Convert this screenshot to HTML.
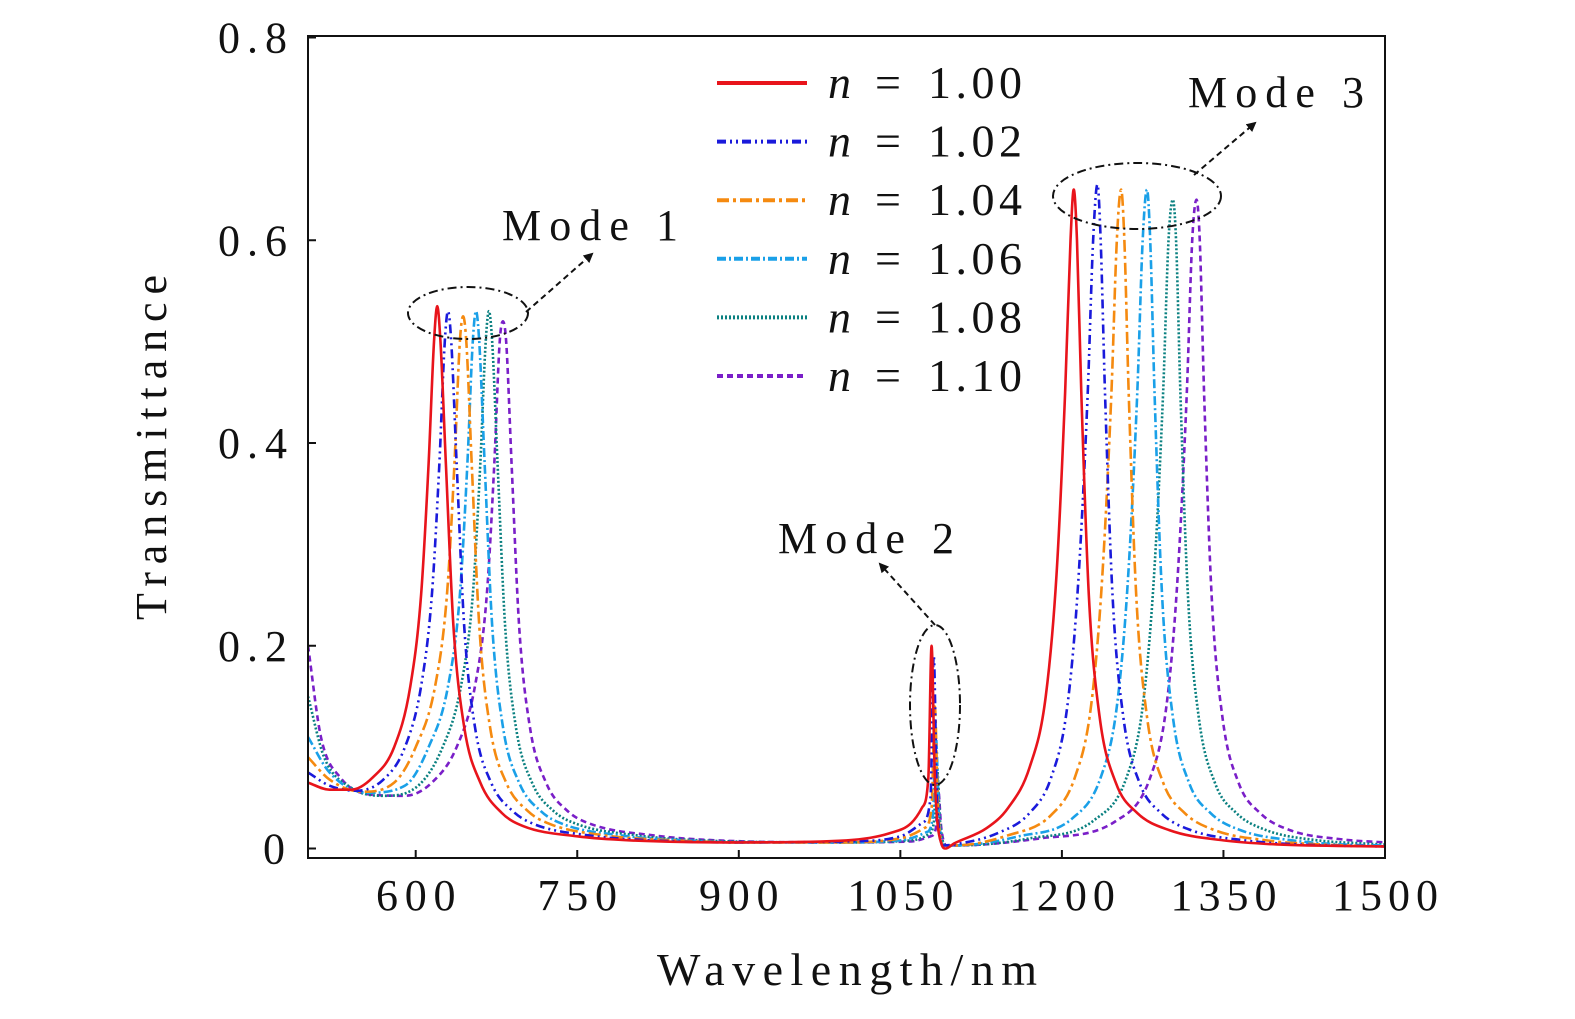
<!DOCTYPE html>
<html><head><meta charset="utf-8">
<style>
html,body{margin:0;padding:0;background:#fff;}
svg text{font-family:"Liberation Serif",serif;fill:#111;}
</style></head>
<body>
<svg id="chart" width="1575" height="1014" viewBox="0 0 1575 1014" xmlns="http://www.w3.org/2000/svg">
<defs>
<clipPath id="plotclip"><rect x="308" y="36" width="1077" height="822"/></clipPath>
<marker id="arrowhead" markerWidth="10" markerHeight="10" refX="8" refY="5" orient="auto" markerUnits="userSpaceOnUse">
<path d="M0,0 L10,5 L0,10 Z" fill="#111"/></marker>
</defs>
<g id="series-layer" clip-path="url(#plotclip)"></g>
<rect x="308" y="36" width="1077" height="822" fill="none" stroke="#111" stroke-width="2"/>
<g id="axes"></g>
<text x="657" y="985" font-size="46" textLength="380" lengthAdjust="spacing">Wavelength/nm</text>
<text transform="translate(166,620) rotate(-90)" font-size="44" textLength="345" lengthAdjust="spacing">Transmittance</text>
<g id="legend"></g>
<g>
<ellipse cx="468" cy="313" rx="60" ry="26" fill="none" stroke="#111" stroke-width="2" stroke-dasharray="9 4 2 4"/>
<line x1="526" y1="312" x2="592" y2="254" stroke="#111" stroke-width="2" stroke-dasharray="6 4" marker-end="url(#arrowhead)"/>
<text x="502" y="240" font-size="44" textLength="176" lengthAdjust="spacing">Mode 1</text>
</g>
<g>
<ellipse cx="935" cy="705" rx="25" ry="80" fill="none" stroke="#111" stroke-width="2" stroke-dasharray="9 4 2 4"/>
<line x1="935" y1="625" x2="880" y2="564" stroke="#111" stroke-width="2" stroke-dasharray="6 4" marker-end="url(#arrowhead)"/>
<text x="778" y="553" font-size="44" textLength="176" lengthAdjust="spacing">Mode 2</text>
</g>
<g>
<ellipse cx="1137" cy="196" rx="84" ry="33" fill="none" stroke="#111" stroke-width="2" stroke-dasharray="9 4 2 4"/>
<line x1="1194" y1="175" x2="1255" y2="123" stroke="#111" stroke-width="2" stroke-dasharray="6 4" marker-end="url(#arrowhead)"/>
<text x="1188" y="107" font-size="44" textLength="176" lengthAdjust="spacing">Mode 3</text>
</g>
</svg>
<script>
const xTicks = [600, 750, 900, 1050, 1200, 1350, 1500];
const yTicks = [0, 0.2, 0.4, 0.6, 0.8];
const yTickLabels = ["0", "0.2", "0.4", "0.6", "0.8"];
const seriesNames = ["n = 1.00", "n = 1.02", "n = 1.04", "n = 1.06", "n = 1.08", "n = 1.10"];
const seriesColors = ["#e8141b", "#1a1adb", "#f58a10", "#1aa0e8", "#0a8080", "#7a1fc8"];
const seriesDash = ["", "9 4 2 4 2 4", "12 4 3 4", "9 3 2 3", "2 2", "6 4"];

const wl100 = [500,520,540,560,580,595,605,612,617,620,623,628,635,645,660,680,700,750,800,900,1000,1040,1060,1070,1076,1079,1082,1088,1092,1100,1130,1150,1170,1185,1195,1203,1208,1211,1214,1218,1225,1235,1250,1270,1300,1350,1400,1500];
const t100 = [.065,.058,.058,.07,.1,.16,.25,.38,.5,.535,.5,.38,.22,.12,.065,.035,.022,.012,.008,.006,.008,.015,.025,.04,.07,.2,.07,.005,0,.005,.02,.04,.08,.15,.27,.45,.6,.65,.6,.45,.25,.13,.065,.035,.018,.008,.004,.002];
const wl102 = [500,520,545,570,590,605,615,622,627,630,633,638,645,655,670,690,710,760,820,900,1000,1050,1070,1078,1081,1084,1090,1100,1140,1170,1190,1205,1215,1224,1229,1233,1236,1240,1247,1257,1272,1292,1320,1370,1420,1500];
const t102 = [.075,.062,.057,.068,.1,.16,.25,.38,.5,.53,.5,.38,.22,.12,.065,.037,.024,.013,.008,.006,.007,.012,.025,.05,.19,.05,.003,.004,.015,.035,.07,.14,.26,.45,.6,.655,.6,.45,.25,.13,.065,.035,.018,.008,.004,.002];
const wl104 = [500,520,550,580,600,618,629,636,641,644,647,652,659,669,684,704,725,775,840,900,1000,1050,1072,1079,1082,1085,1090,1100,1150,1190,1212,1227,1237,1246,1251,1255,1258,1262,1269,1279,1294,1314,1342,1390,1440,1500];
const t104 = [.09,.068,.056,.065,.1,.16,.25,.38,.5,.525,.5,.38,.22,.12,.065,.037,.024,.013,.008,.006,.006,.01,.02,.04,.14,.04,.003,.003,.013,.033,.07,.14,.26,.45,.6,.65,.6,.45,.25,.13,.065,.035,.018,.008,.004,.002];
const wl106 = [500,520,555,590,612,630,641,648,653,656,659,664,671,681,696,716,737,790,850,900,1000,1050,1074,1080,1083,1086,1091,1100,1160,1210,1236,1251,1261,1270,1275,1279,1282,1286,1293,1303,1318,1338,1366,1414,1460,1500];
const t106 = [.11,.075,.055,.062,.1,.16,.25,.38,.5,.53,.5,.38,.22,.12,.065,.037,.024,.013,.008,.006,.006,.008,.016,.03,.11,.03,.003,.003,.012,.03,.07,.14,.26,.45,.6,.65,.6,.45,.25,.13,.065,.035,.018,.008,.004,.003];
const wl108 = [500,515,540,570,600,625,642,653,660,665,668,671,676,683,693,708,728,750,805,865,1000,1060,1076,1081,1084,1087,1092,1100,1170,1230,1260,1275,1285,1294,1299,1303,1306,1310,1317,1327,1342,1362,1390,1438,1480,1500];
const t108 = [.15,.09,.06,.052,.06,.1,.16,.25,.38,.5,.53,.5,.38,.22,.12,.065,.037,.024,.013,.008,.006,.008,.014,.025,.08,.025,.003,.003,.01,.028,.07,.14,.26,.45,.6,.64,.6,.45,.25,.13,.065,.035,.018,.008,.005,.004];
const wl110 = [500,512,530,560,590,615,638,655,666,673,678,681,684,689,696,706,721,741,763,820,880,1000,1060,1078,1083,1085,1088,1093,1100,1180,1250,1282,1297,1307,1316,1321,1325,1328,1332,1339,1349,1364,1384,1412,1460,1500];
const t110 = [.2,.11,.07,.053,.052,.065,.1,.16,.25,.38,.5,.52,.5,.38,.22,.12,.065,.037,.024,.013,.008,.006,.007,.012,.02,.06,.02,.003,.003,.01,.027,.07,.14,.26,.45,.6,.64,.6,.45,.25,.13,.065,.035,.018,.009,.006];

const seriesX = [wl100, wl102, wl104, wl106, wl108, wl110];
const seriesY = [t100, t102, t104, t106, t108, t110];

const NS = "http://www.w3.org/2000/svg";
const X0 = 308, X1 = 1385, XMIN = 500, XMAX = 1500;
const Y0 = 848.5, YPER = 1013.75;
function xs(v){ return X0 + (v - XMIN) / (XMAX - XMIN) * (X1 - X0); }
function ys(v){ return Y0 - v * YPER; }

function monoPath(xa, ya){
  const n = xa.length, px = xa.map(xs), py = ya.map(ys);
  const d = [], m = new Array(n);
  for (let i=0;i<n-1;i++) d.push((py[i+1]-py[i])/(px[i+1]-px[i]));
  m[0]=d[0]; m[n-1]=d[n-2];
  for (let i=1;i<n-1;i++){ m[i] = (d[i-1]*d[i] <= 0) ? 0 : (d[i-1]+d[i])/2; }
  for (let i=0;i<n-1;i++){
    if (d[i]===0){ m[i]=0; m[i+1]=0; continue; }
    const a=m[i]/d[i], b=m[i+1]/d[i], s=a*a+b*b;
    if (s>9){ const t=3/Math.sqrt(s); m[i]=t*a*d[i]; m[i+1]=t*b*d[i]; }
  }
  let p = "M"+px[0].toFixed(2)+","+py[0].toFixed(2);
  for (let i=0;i<n-1;i++){
    const h=(px[i+1]-px[i])/3;
    p += " C"+(px[i]+h).toFixed(2)+","+(py[i]+m[i]*h).toFixed(2)+" "+(px[i+1]-h).toFixed(2)+","+(py[i+1]-m[i+1]*h).toFixed(2)+" "+px[i+1].toFixed(2)+","+py[i+1].toFixed(2);
  }
  return p;
}

const layer = document.getElementById("series-layer");
const order = [5,4,3,2,1,0];
order.forEach(i => {
  const path = document.createElementNS(NS, "path");
  path.setAttribute("d", monoPath(seriesX[i], seriesY[i]));
  path.setAttribute("fill", "none");
  path.setAttribute("stroke", seriesColors[i]);
  path.setAttribute("stroke-width", "2.6");
  if (seriesDash[i]) path.setAttribute("stroke-dasharray", seriesDash[i]);
  
  
  layer.appendChild(path);
});

const axes = document.getElementById("axes");
xTicks.forEach(v => {
  const x = xs(v);
  const tk = document.createElementNS(NS, "line");
  tk.setAttribute("x1", x); tk.setAttribute("x2", x);
  tk.setAttribute("y1", 858); tk.setAttribute("y2", 850);
  tk.setAttribute("stroke", "#111"); tk.setAttribute("stroke-width", "2");
  
  
  axes.appendChild(tk);
  const t = document.createElementNS(NS, "text");
  const s = String(v);
  const w = s.length * 26.5;
  t.setAttribute("x", x - w / 2); t.setAttribute("y", 910);
  t.setAttribute("font-size", "44");
  t.setAttribute("textLength", w); t.setAttribute("lengthAdjust", "spacing");
  t.textContent = s;
  
  
  axes.appendChild(t);
});
yTicks.forEach((v, k) => {
  const y = ys(v);
  const tk = document.createElementNS(NS, "line");
  tk.setAttribute("x1", 308); tk.setAttribute("x2", 316);
  tk.setAttribute("y1", y); tk.setAttribute("y2", y);
  tk.setAttribute("stroke", "#111"); tk.setAttribute("stroke-width", "2");
  
  
  axes.appendChild(tk);
  const t = document.createElementNS(NS, "text");
  const s = yTickLabels[k];
  const w = s.length === 1 ? 24 : 69;
  t.setAttribute("x", 287 - w); t.setAttribute("y", y + 15);
  t.setAttribute("font-size", "44");
  t.setAttribute("textLength", w); t.setAttribute("lengthAdjust", "spacing");
  t.textContent = s;
  
  
  axes.appendChild(t);
});

const legend = document.getElementById("legend");
seriesNames.forEach((name, i) => {
  const y = 83 + i * 58.6;
  const ln = document.createElementNS(NS, "line");
  ln.setAttribute("x1", 717); ln.setAttribute("x2", 807);
  ln.setAttribute("y1", y); ln.setAttribute("y2", y);
  ln.setAttribute("stroke", seriesColors[i]); ln.setAttribute("stroke-width", "4");
  if (seriesDash[i]) ln.setAttribute("stroke-dasharray", seriesDash[i]);
  
  
  legend.appendChild(ln);
  const parts = name.split(" ");
  const g = document.createElementNS(NS, "text");
  g.setAttribute("y", y + 15);
  g.setAttribute("font-size", "46");
  
  
  const a = document.createElementNS(NS, "tspan");
  a.setAttribute("x", 828); a.setAttribute("font-style", "italic");
  a.textContent = parts[0];
  const b = document.createElementNS(NS, "tspan");
  b.setAttribute("x", 875);
  b.textContent = parts[1];
  const c = document.createElementNS(NS, "tspan");
  c.setAttribute("x", 928);
  c.setAttribute("textLength", 94); c.setAttribute("lengthAdjust", "spacing");
  c.textContent = parts[2];
  g.appendChild(a); g.appendChild(b); g.appendChild(c);
  legend.appendChild(g);
});
</script>
</body></html>
